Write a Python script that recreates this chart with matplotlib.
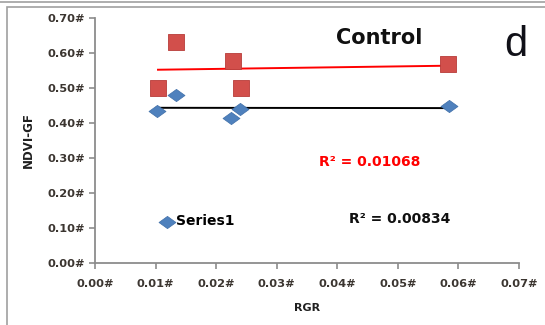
import numpy as np
import matplotlib.pyplot as plt
from matplotlib.path import Path
from matplotlib.patches import Rectangle
from matplotlib.lines import Line2D

# RGR vs NDVI-GF, control plot
rgr_blue = [0.0102, 0.0133, 0.0225, 0.0239, 0.0584]
ndvi_blue = [0.434, 0.480, 0.415, 0.439, 0.449]

rgr_red = [0.0104, 0.0134, 0.0228, 0.0241, 0.0582]
ndvi_red = [0.501, 0.632, 0.579, 0.501, 0.569]

x_ticks = [0.00, 0.01, 0.02, 0.03, 0.04, 0.05, 0.06, 0.07]
y_ticks = [0.00, 0.10, 0.20, 0.30, 0.40, 0.50, 0.60, 0.70]

BLUE = "#4f81bd"
RED = "#d24f4b"
TXT = "#3b3530"

# wide diamond, like the spreadsheet marker
diamond = Path([(-1, 0), (0, 0.72), (1, 0), (0, -0.72), (-1, 0)],
               [Path.MOVETO, Path.LINETO, Path.LINETO, Path.LINETO, Path.CLOSEPOLY])


def trend(x, y):
    k, b = np.polyfit(x, y, 1)
    xs = np.array([min(x), max(x)])
    return xs, k * xs + b


fig = plt.figure(figsize=(5.45, 3.25), dpi=100)
fig.patches.append(Rectangle((7 / 545, -0.1), 2, 1 - 7 / 325 + 0.1,
                             transform=fig.transFigure, fill=False,
                             edgecolor="#a0a0a0", lw=1.2))
fig.add_artist(Line2D([0, 1], [1 - 2 / 325, 1 - 2 / 325], transform=fig.transFigure,
                      color="#a0a0a0", lw=1.2))

ax = fig.add_axes([95 / 545, 1 - 262.7 / 325, 424 / 545, 244.4 / 325])

ax.scatter(rgr_red, ndvi_red, marker="s", s=130, color=RED,
           edgecolors="#b83c39", linewidths=0.6, zorder=3)
ax.scatter(rgr_blue, ndvi_blue, marker=diamond, s=150, color=BLUE,
           edgecolors="#3f6fa8", linewidths=0.5, zorder=3, label="Series1")

xs, ys = trend(rgr_red, ndvi_red)
ax.plot(xs, ys, color="#ff0000", lw=1.4, zorder=2)
xs, ys = trend(rgr_blue, ndvi_blue)
ax.plot(xs, ys, color="black", lw=1.4, zorder=2)

ax.set_xlim(0, 0.07)
ax.set_ylim(0, 0.70)
ax.set_xticks(x_ticks)
ax.set_yticks(y_ticks)
ax.set_xticklabels([f"{v:.2f}#" for v in x_ticks])
ax.set_yticklabels([f"{v:.2f}#" for v in y_ticks])

for side in ["top", "right"]:
    ax.spines[side].set_visible(False)
for side in ["left", "bottom"]:
    ax.spines[side].set_color("#8c8c8c")
    ax.spines[side].set_linewidth(1.3)
ax.tick_params(direction="out", length=4, width=1.2, color="#8c8c8c",
               labelsize=8.2, labelcolor=TXT, pad=3)
for lab in ax.get_xticklabels() + ax.get_yticklabels():
    lab.set_fontweight("bold")
ax.tick_params(axis="x", pad=8)

ax.set_xlabel("RGR", fontsize=8, fontweight="bold", color="#202020", labelpad=10)
ax.set_ylabel("NDVI-GF", fontsize=8.5, fontweight="bold", color="#202020", labelpad=9)

ax.text(0.0469, 0.644, "Control", fontsize=15, fontweight="bold", ha="center",
        va="center", color="#101010")
fig.text(516 / 545, 1 - 45 / 325, "d", fontsize=30, ha="center", va="center",
         family="Liberation Sans", color="#101018")

ax.text(0.0454, 0.2885, "R² = 0.01068", fontsize=10, fontweight="bold",
        ha="center", va="center", color="#ff0000")
ax.text(0.0503, 0.125, "R² = 0.00834", fontsize=10, fontweight="bold",
        ha="center", va="center", color="#101010")

ax.legend(loc="center left", bbox_to_anchor=(0.14, 0.17), frameon=False,
          handletextpad=0.15, handlelength=1.0, borderaxespad=0,
          prop={"size": 10, "weight": "bold"})

fig.savefig("out.png", dpi=100)
